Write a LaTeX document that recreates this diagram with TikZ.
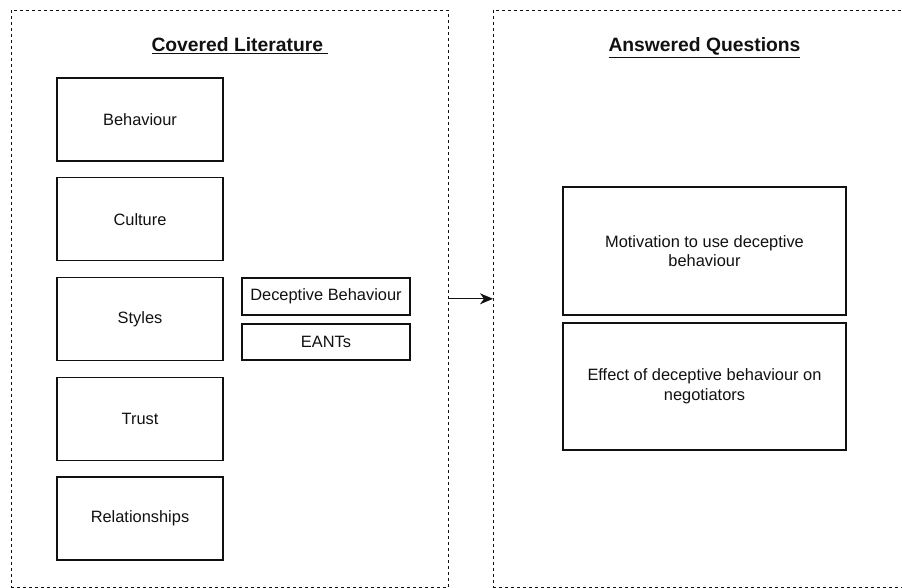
\documentclass[tikz,border=0pt]{standalone}
\usepackage{fontspec}
\setmainfont{Liberation Sans}
\usetikzlibrary{arrows.meta}
\definecolor{ink}{HTML}{111111}
\tikzset{
  container/.style={draw=ink, line width=0.9pt, dash pattern=on 3pt off 3pt, inner sep=0pt, outer sep=0pt},
  litbox/.style={draw=ink, line width=1.2pt, inner sep=0pt, outer sep=0pt, text=ink,
    font=\fontsize{16.4}{19.7}\selectfont, align=center},
  titletext/.style={font=\bfseries\fontsize{19.3}{23}\selectfont, text=ink, anchor=base, inner sep=0pt},
  conn/.style={draw=ink, line width=1.3pt, -{Stealth[length=13pt,width=11pt,inset=4pt]}}
}
\begin{document}
\begin{tikzpicture}[x=1pt,y=-1pt]
\useasboundingbox (0,0) rectangle (902,588);
\fill[white] (0,0) rectangle (902,588);
\clip (0,0) rectangle (902,588);
% containers
\node[container, minimum width=437pt, minimum height=577.6pt] (L) at (229.5,298.8) {};
\node[container, minimum width=467pt, minimum height=577.6pt] (R) at (726.5,298.8) {};
% titles
\node[titletext] (tL) at (240,52) {\underline{Covered Literature\ }};
\node[titletext] (tR) at (704.5,52) {\underline{Answered Questions}};
% literature boxes
\node[litbox, minimum width=166pt, minimum height=83pt] (beh) at (140,119.5) {Behaviour};
\node[litbox, minimum width=166pt, minimum height=83pt] (cul) at (140,219.3) {Culture};
\node[litbox, minimum width=166pt, minimum height=83pt] (sty) at (140,319) {Styles};
\node[litbox, minimum width=166pt, minimum height=83pt] (tru) at (140,418.7) {Trust};
\node[litbox, minimum width=166pt, minimum height=83pt] (rel) at (140,518.5) {Relationships};
\node[litbox, minimum width=168pt, minimum height=37pt] (dec) at (326,296.5) {Deceptive Behaviour};
\node[litbox, minimum width=168pt, minimum height=36pt] (eant) at (326,342) {EANTs};
% questions
\node[litbox, minimum width=283pt, minimum height=128pt] (mot) at (704.5,251) {Motivation to use deceptive\\behaviour};
\node[litbox, minimum width=283pt, minimum height=127pt] (eff) at (704.5,386.5) {Effect of deceptive behaviour on\\negotiators};
% connector
\draw[conn] (L.east) -- (R.west);
\end{tikzpicture}
\end{document}
